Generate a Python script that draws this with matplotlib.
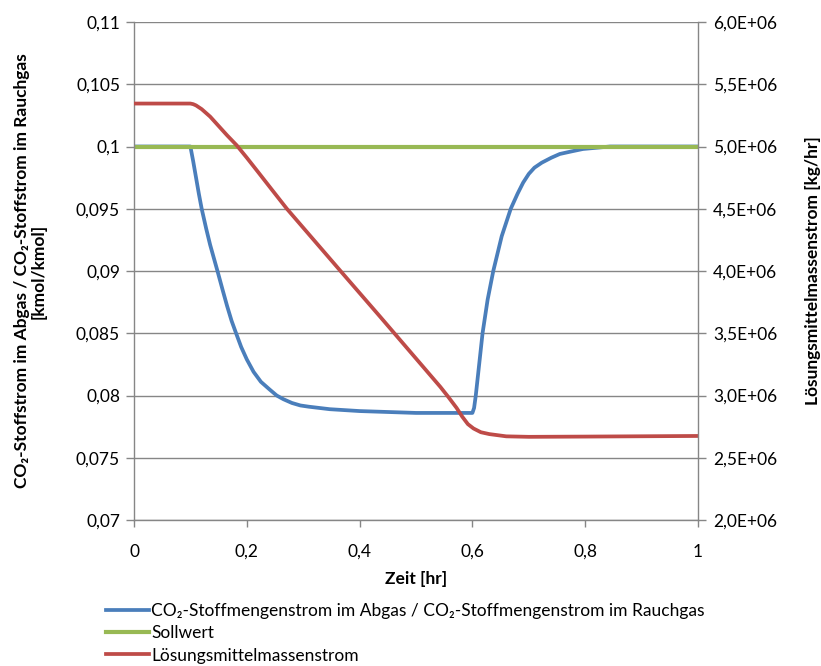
import matplotlib.pyplot as plt

plt.rcParams['font.family'] = ['Lato', 'DejaVu Sans']

# Zeit [hr]
t_co2 = [0, 0.1, 0.105, 0.11, 0.115, 0.12, 0.128, 0.135, 0.148, 0.157, 0.165, 0.173,
         0.181, 0.19, 0.2, 0.212, 0.225, 0.24, 0.253, 0.265, 0.28, 0.295, 0.31,
         0.347, 0.4, 0.5, 0.6, 0.603, 0.606, 0.612, 0.618, 0.627, 0.637, 0.652,
         0.668, 0.68, 0.69, 0.70, 0.71, 0.723, 0.74, 0.755, 0.775, 0.796, 0.82,
         0.844, 1.0]
co2_ratio = [0.1, 0.1, 0.0988, 0.0975, 0.0962, 0.095, 0.0934, 0.0921, 0.09, 0.0885,
             0.0872, 0.086, 0.085, 0.0839, 0.0829, 0.0819, 0.0811, 0.0805, 0.08,
             0.0797, 0.0794, 0.0792, 0.0791, 0.0789, 0.07875, 0.0786, 0.0786, 0.079,
             0.08, 0.0825, 0.085, 0.0877, 0.09, 0.0928, 0.095, 0.0962, 0.0971,
             0.0978, 0.0983, 0.0987, 0.0991, 0.0994, 0.0996, 0.0998, 0.0999, 0.1, 0.1]

t_soll = [0, 1.0]
soll = [0.1, 0.1]

t_loes = [0, 0.1, 0.105, 0.11, 0.12, 0.135, 0.15, 0.165, 0.182, 0.2, 0.22, 0.245,
          0.271, 0.37, 0.436, 0.543, 0.557, 0.572, 0.582, 0.592, 0.602, 0.615, 0.63,
          0.66, 0.7, 0.8, 1.0]
loes = [5.345e6, 5.345e6, 5.34e6, 5.33e6, 5.30e6, 5.24e6, 5.165e6, 5.09e6, 5.01e6,
        4.91e6, 4.795e6, 4.65e6, 4.5e6, 3.98e6, 3.635e6, 3.07e6, 2.99e6, 2.9e6,
        2.83e6, 2.77e6, 2.735e6, 2.705e6, 2.69e6, 2.672e6, 2.668e6, 2.67e6, 2.675e6]

x_ticks = [0, 0.2, 0.4, 0.6, 0.8, 1.0]
x_labels = ['0', '0,2', '0,4', '0,6', '0,8', '1']
y_ticks = [0.07, 0.075, 0.08, 0.085, 0.09, 0.095, 0.1, 0.105, 0.11]
y_labels = ['0,07', '0,075', '0,08', '0,085', '0,09', '0,095', '0,1', '0,105', '0,11']
y2_ticks = [2.0e6, 2.5e6, 3.0e6, 3.5e6, 4.0e6, 4.5e6, 5.0e6, 5.5e6, 6.0e6]
y2_labels = ['2,0E+06', '2,5E+06', '3,0E+06', '3,5E+06', '4,0E+06', '4,5E+06',
             '5,0E+06', '5,5E+06', '6,0E+06']

grey = '#868686'
fs = 12.5
lfs = 12.5

fig = plt.figure(figsize=(8.21, 6.66), dpi=100)
ax = fig.add_axes([134 / 821, 1 - 520 / 666, 564 / 821, 498 / 666])
ax2 = ax.twinx()

l1, = ax.plot(t_co2, co2_ratio, color='#4A7EBB', lw=2.7,
              label='CO₂-Stoffmengenstrom im Abgas / CO₂-Stoffmengenstrom im Rauchgas')
l2, = ax.plot(t_soll, soll, color='#98B954', lw=3.0, label='Sollwert')
l3, = ax2.plot(t_loes, loes, color='#BE4B48', lw=2.7, label='Lösungsmittelmassenstrom')

ax.set_xlim(0, 1)
ax.set_ylim(0.07, 0.11)
ax2.set_ylim(2.0e6, 6.0e6)

ax.set_xticks(x_ticks)
ax.set_xticklabels(x_labels)
ax.set_yticks(y_ticks)
ax.set_yticklabels(y_labels)
ax2.set_yticks(y2_ticks)
ax2.set_yticklabels(y2_labels)

ax.yaxis.grid(True, color=grey, lw=1.0)
ax.set_axisbelow(True)

for a in (ax, ax2):
    a.spines['top'].set_visible(False)
    for s in ('left', 'right', 'bottom'):
        a.spines[s].set_color(grey)
        a.spines[s].set_linewidth(1.0)
    a.tick_params(colors=grey, labelcolor='black', labelsize=fs, width=1.0, length=6)
ax.spines['right'].set_visible(False)
ax2.spines['left'].set_visible(False)
ax2.spines['bottom'].set_visible(False)
ax.tick_params(axis='y', pad=4)
ax.tick_params(axis='x', length=5, pad=12)
ax2.tick_params(axis='y', pad=5)

ax.set_xlabel('Zeit [hr]', fontsize=lfs, fontweight='bold', labelpad=8)
ax.set_ylabel('CO₂-Stoffstrom im Abgas / CO₂-Stoffstrom im Rauchgas\n[kmol/kmol]',
              fontsize=lfs, fontweight='bold', labelpad=21, linespacing=1.1)
ax2.set_ylabel('Lösungsmittelmassenstrom [kg/hr]', fontsize=lfs, fontweight='bold',
               labelpad=20)

fig.legend(handles=[l1, l2, l3], loc='upper left', bbox_to_anchor=(106 / 821, 1 - 603 / 666),
           frameon=False, fontsize=lfs, handlelength=2.5, handletextpad=0.12,
           labelspacing=0.36, borderaxespad=0, borderpad=0)

fig.savefig('out.png', dpi=100)
